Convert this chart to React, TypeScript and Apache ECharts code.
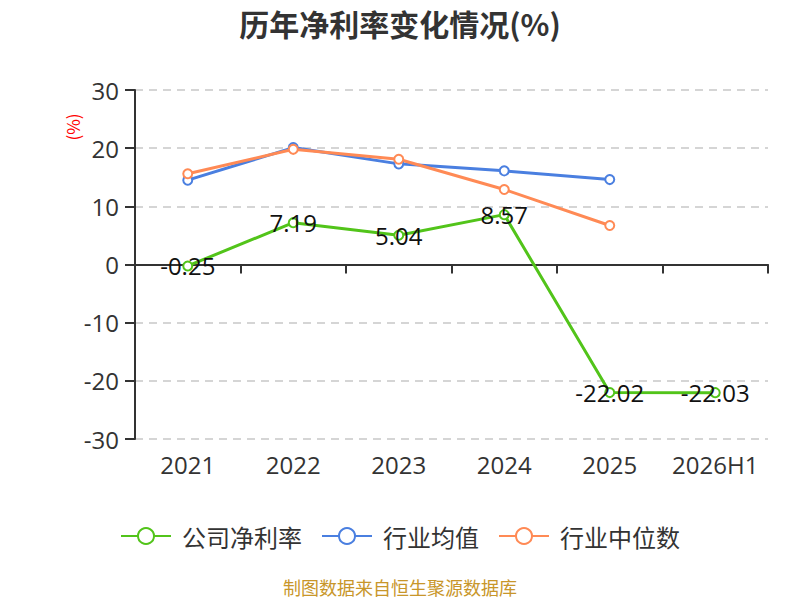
import React, { useEffect, useRef } from "react";
import * as echarts from "echarts";

const categories = ["2021", "2022", "2023", "2024", "2025", "2026H1"];
const companyNetMargin = [-0.25, 7.19, 5.04, 8.57, -22.02, -22.03];
const industryAverage = [14.5, 20.1, 17.3, 16.1, 14.6, null];
const industryMedian = [15.6, 19.8, 18.1, 12.9, 6.7, null];
const seriesNames = ["公司净利率", "行业均值", "行业中位数"];
const colors = ["#52c41a", "#4a7fe0", "#ff8a55"];

const FONT = "'Open Sans', 'Noto Sans CJK SC', sans-serif";
const CJK = "'Noto Sans CJK SC', sans-serif";

export default function App() {
  const ref = useRef<HTMLDivElement>(null);
  useEffect(() => {
    if (!ref.current) return;
    const chart = echarts.init(ref.current, null, { renderer: "svg" });
    chart.setOption({
      animation: false,
      title: {
        text: "历年净利率变化情况(%)",
        left: "center",
        top: 3,
        textStyle: { fontSize: 30, fontWeight: "bold", color: "#333", fontFamily: CJK },
      },
      legend: {
        top: 519,
        left: "center",
        itemWidth: 50,
        itemHeight: 20,
        itemGap: 19,
        textStyle: { fontSize: 24, color: "#333", fontFamily: CJK, padding: [0, 0, 0, 6] },
        data: seriesNames,
      },
      grid: { left: 135, right: 32, top: 90, bottom: 161 },
      xAxis: [
        {
          type: "category",
          data: categories,
          axisLine: { onZero: true, lineStyle: { color: "#333", width: 2 } },
          axisTick: { show: true, length: 9, lineStyle: { color: "#333", width: 2 } },
          axisLabel: { show: false },
        },
        {
          type: "category",
          data: categories,
          position: "bottom",
          axisLine: { show: false, onZero: false },
          axisTick: { show: false },
          axisLabel: { interval: 0, fontSize: 24, color: "#333", margin: 13, fontFamily: FONT },
        },
      ],
      yAxis: {
        type: "value",
        min: -30,
        max: 30,
        interval: 10,
        axisLine: { show: true, lineStyle: { color: "#333", width: 2 } },
        axisTick: { show: true, length: 10, lineStyle: { color: "#333", width: 2 } },
        axisLabel: { fontSize: 24, color: "#333", margin: 16, fontFamily: FONT },
        splitLine: { lineStyle: { type: [8, 6], color: "#c8c8c8", width: 1.5 } },
      },
      series: [
        {
          name: seriesNames[0],
          type: "line",
          xAxisIndex: 0,
          data: companyNetMargin,
          symbol: "emptyCircle",
          symbolSize: 9,
          lineStyle: { width: 3, color: colors[0] },
          itemStyle: { color: colors[0], borderWidth: 2 },
          label: { show: true, position: "inside", fontSize: 24, color: "#111", fontFamily: FONT },
          z: 5,
        },
        {
          name: seriesNames[1],
          type: "line",
          xAxisIndex: 0,
          data: industryAverage,
          symbol: "emptyCircle",
          symbolSize: 9,
          lineStyle: { width: 3, color: colors[1] },
          itemStyle: { color: colors[1], borderWidth: 2 },
        },
        {
          name: seriesNames[2],
          type: "line",
          xAxisIndex: 0,
          data: industryMedian,
          symbol: "emptyCircle",
          symbolSize: 9,
          lineStyle: { width: 3, color: colors[2] },
          itemStyle: { color: colors[2], borderWidth: 2 },
        },
      ],
      graphic: [
        {
          type: "text",
          x: 72,
          y: 127,
          rotation: Math.PI / 2,
          style: { text: "(%)", fontSize: 17, fill: "#ff0000", fontFamily: CJK, align: "center", verticalAlign: "middle" },
        },
        {
          type: "text",
          left: "center",
          top: 578,
          style: { text: "制图数据来自恒生聚源数据库", fontSize: 18, fill: "#c8962a", fontFamily: CJK },
        },
      ],
    });
    return () => chart.dispose();
  }, []);
  return <div ref={ref} style={{ width: 800, height: 600, position: "absolute", left: 0, top: 0 }} />;
}
